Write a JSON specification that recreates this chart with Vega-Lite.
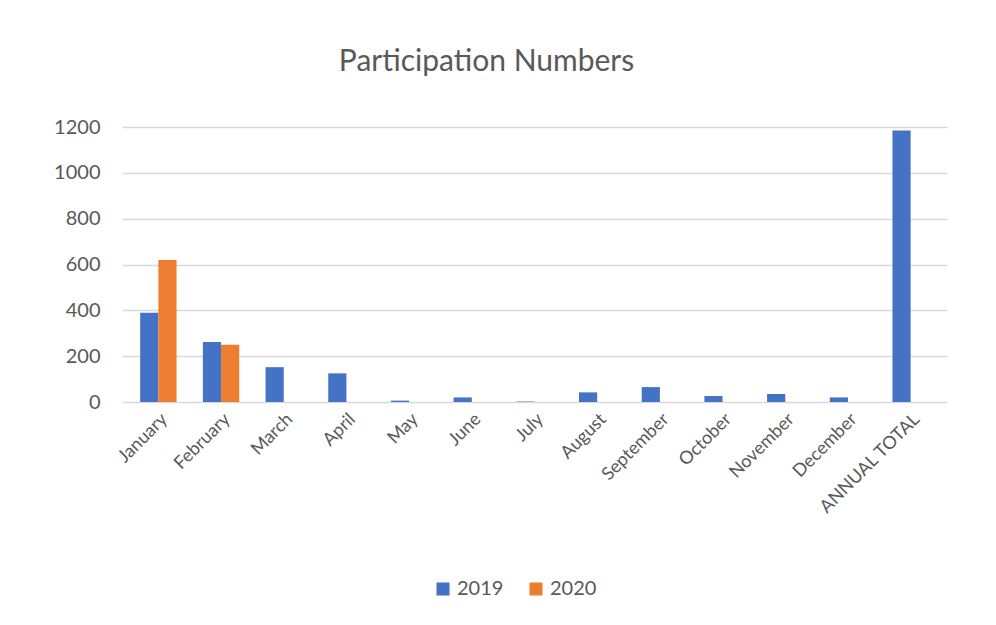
{
  "$schema": "https://vega.github.io/schema/vega-lite/v6.json",
  "width": 825,
  "height": 275,
  "padding": {"left": 53, "top": 47, "right": 20, "bottom": 10},
  "background": "white",
  "title": {
    "text": "Participation Numbers",
    "fontSize": 30,
    "font": "Lato",
    "fontWeight": "normal",
    "color": "#595959",
    "anchor": "middle",
    "frame": "group",
    "dx": -48,
    "offset": 40
  },
  "data": {
    "values": [
      {"month": "January", "year": "2019", "value": 390},
      {"month": "January", "year": "2020", "value": 620},
      {"month": "February", "year": "2019", "value": 262},
      {"month": "February", "year": "2020", "value": 250},
      {"month": "March", "year": "2019", "value": 152},
      {"month": "April", "year": "2019", "value": 125},
      {"month": "May", "year": "2019", "value": 6},
      {"month": "June", "year": "2019", "value": 20},
      {"month": "July", "year": "2019", "value": 2},
      {"month": "August", "year": "2019", "value": 42},
      {"month": "September", "year": "2019", "value": 65},
      {"month": "October", "year": "2019", "value": 26},
      {"month": "November", "year": "2019", "value": 35},
      {"month": "December", "year": "2019", "value": 20},
      {"month": "ANNUAL TOTAL", "year": "2019", "value": 1185}
    ]
  },
  "mark": {"type": "bar"},
  "encoding": {
    "x": {
      "field": "month",
      "type": "nominal",
      "sort": null,
      "scale": {"paddingInner": 0.42, "paddingOuter": 0.29},
      "axis": {
        "title": null,
        "labelAngle": -45,
        "labelFontSize": 18,
        "labelFont": "Lato",
        "labelColor": "#595959",
        "ticks": false,
        "domain": false,
        "labelPadding": 8
      }
    },
    "xOffset": {"field": "year", "type": "nominal"},
    "y": {
      "field": "value",
      "type": "quantitative",
      "scale": {"domain": [0, 1200]},
      "axis": {
        "title": null,
        "values": [0, 200, 400, 600, 800, 1000, 1200],
        "format": "d",
        "labelFontSize": 20,
        "labelFont": "Lato",
        "labelColor": "#595959",
        "ticks": false,
        "domain": false,
        "labelPadding": 22,
        "gridColor": "#d9d9d9",
        "gridWidth": 1.5
      }
    },
    "color": {
      "field": "year",
      "type": "nominal",
      "scale": {"domain": ["2019", "2020"], "range": ["#4472C4", "#ED7D31"]},
      "legend": {
        "title": null,
        "orient": "none",
        "legendX": 311,
        "legendY": 452,
        "direction": "horizontal",
        "symbolType": "square",
        "symbolSize": 170,
        "symbolStrokeWidth": 0,
        "labelFontSize": 20,
        "labelFont": "Lato",
        "labelColor": "#595959",
        "columnPadding": 22
      }
    }
  },
  "config": {"view": {"stroke": null}}
}
